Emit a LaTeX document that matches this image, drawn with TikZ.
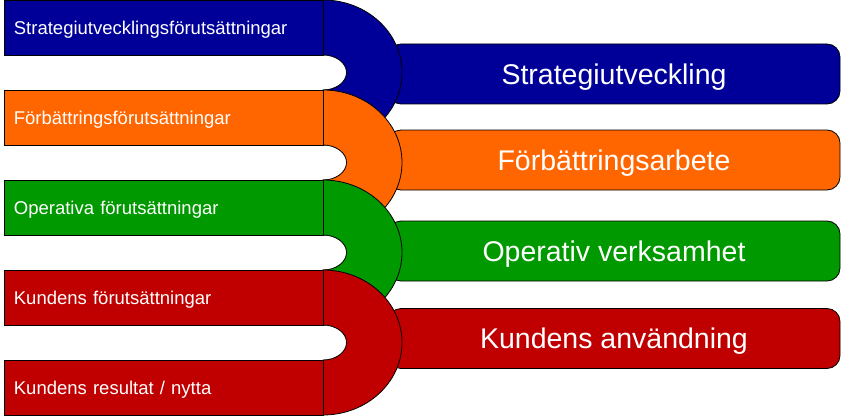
\documentclass[tikz,border=0pt]{standalone}
\usepackage{fontspec}
\setmainfont{Liberation Sans}
\definecolor{sblue}{RGB}{0,0,153}
\definecolor{sorange}{RGB}{255,102,0}
\definecolor{sgreen}{RGB}{0,153,0}
\definecolor{sred}{RGB}{192,0,0}
\begin{document}
\begin{tikzpicture}
  [x=1pt,y=-1pt,every node/.style={text=white,inner sep=0pt}]
  \tikzstyle{area} = [draw=black,line width=.8pt]
  \tikzstyle{pre} = [area,shape=rectangle,anchor=north west,minimum height=55pt,
    text width=300pt,inner xsep=9.5pt,text height=13.2pt,text depth=0pt,
    align=left,font=\fontsize{18.5}{20}\selectfont]
  \tikzstyle{act} = [area,shape=rectangle,rounded corners=13pt,minimum width=452pt,
    minimum height=60pt,text height=20.4pt,text depth=0pt,font=\fontsize{28.5}{30}\selectfont]
  \useasboundingbox (0,0) rectangle (845,417);
  \node[act,fill=sblue] (strategi) at (614,74) {Strategiutveckling};
  \node[act,fill=sorange] (forb) at (614,160) {Förbättringsarbete};
  \node[act,fill=sgreen] (oper) at (614,251) {Operativ verksamhet};
  \node[act,fill=sred] (kund) at (614,338.5) {Kundens användning};
\foreach \name/\top/\col/\txt in {pstrat/0/sblue/Strategiutvecklingsförutsättningar,
    pforb/90/sorange/Förbättringsförutsättningar,poper/180/sgreen/Operativa förutsättningar,
    pkund/270/sred/Kundens förutsättningar} {
   \draw[area,fill=\col] (323,\top) arc[start angle=-90,end angle=90,x radius=79,y radius=72.5]
     -- ++(0,-55) arc[start angle=90,end angle=-90,x radius=23.5,y radius=17.5] -- cycle;
   \node[pre,fill=\col] (\name) at (4,\top) {\txt};
}
  \node[pre,fill=sred] (nytta) at (4,360) {Kundens resultat / nytta};
\end{tikzpicture}
\end{document}
